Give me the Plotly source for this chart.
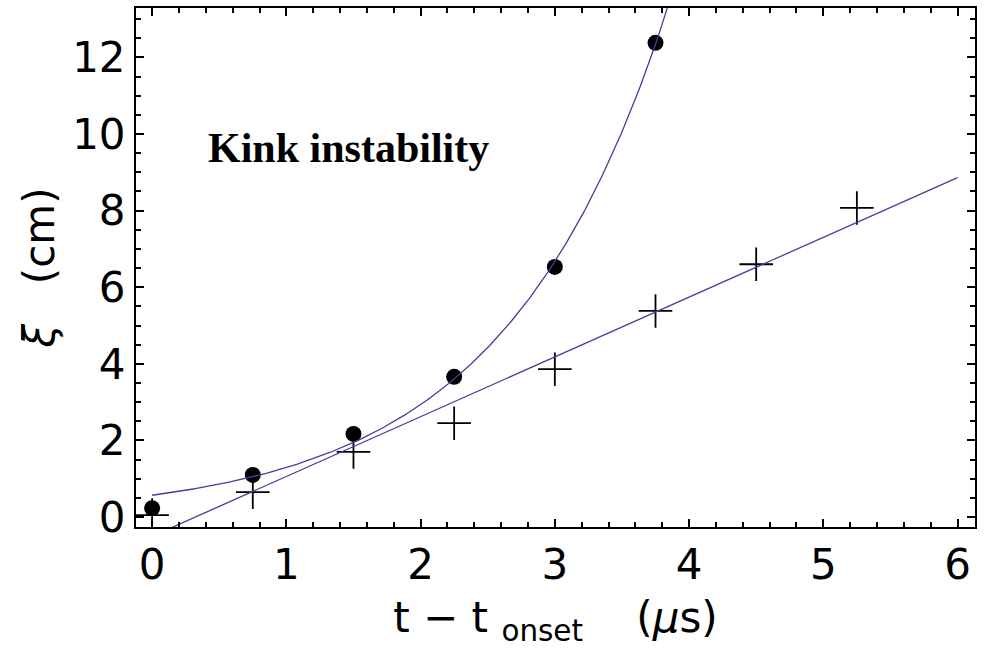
import numpy as np
import plotly.graph_objects as go

# ---- data ----
t_circles = [0.0, 0.75, 1.5, 2.25, 3.0, 3.75]
xi_circles = [0.23, 1.1, 2.17, 3.66, 6.53, 12.38]

t_crosses = [0.0, 0.75, 1.5, 2.25, 3.0, 3.75, 4.5, 5.25]
xi_crosses = [0.05, 0.65, 1.7, 2.45, 3.86, 5.38, 6.6, 8.07]

x_ticks = [0, 1, 2, 3, 4, 5, 6]
y_ticks = [0, 2, 4, 6, 8, 10, 12]

label_text = "Kink instability"

# ---- fits computed from the data ----
xc = np.array(t_circles)
yc = np.array(xi_circles)
b, ln_a = np.polyfit(xc, np.log(yc), 1, w=yc)
a = np.exp(ln_a)
for _ in range(100):
    e = np.exp(b * xc)
    f = a * e
    J = np.column_stack([e, a * xc * e])
    d = np.linalg.lstsq(J, yc - f, rcond=None)[0]
    a += d[0]
    b += d[1]
t_exp = np.linspace(0, 4.0, 300)
xi_exp = a * np.exp(b * t_exp)

slope, icpt = np.polyfit(np.array(t_crosses), np.array(xi_crosses), 1)
t_lin = np.linspace(0, 6, 50)
xi_lin = icpt + slope * t_lin

line_color = "#40409c"

fig = go.Figure()
fig.add_trace(go.Scatter(x=t_circles, y=xi_circles, mode="markers",
                         marker=dict(symbol="circle", size=16, color="black"),
                         showlegend=False))
fig.add_trace(go.Scatter(x=t_crosses, y=xi_crosses, mode="markers",
                         marker=dict(symbol="cross-thin", size=24,
                                     line=dict(color="black", width=1.8)),
                         showlegend=False))
fig.add_trace(go.Scatter(x=t_exp, y=xi_exp, mode="lines",
                         line=dict(color=line_color, width=1.3),
                         showlegend=False))
fig.add_trace(go.Scatter(x=t_lin, y=xi_lin, mode="lines",
                         line=dict(color=line_color, width=1.3),
                         showlegend=False))

axis_common = dict(
    showgrid=False, zeroline=False, showline=True, linecolor="black",
    linewidth=2, mirror="ticks", ticks="inside", ticklen=8, tickwidth=1.5,
    tickcolor="black", automargin=False,
    tickfont=dict(family="DejaVu Sans", size=42, color="black"),
)

fig.update_layout(
    width=986, height=657,
    margin=dict(l=136, r=11, t=8, b=130, autoexpand=False),
    paper_bgcolor="white", plot_bgcolor="white",
    xaxis=dict(range=[-0.12, 6.13], tickvals=x_ticks,
               minor=dict(dtick=0.2, tick0=0, ticklen=5, tickwidth=1.5,
                          ticks="inside", tickcolor="black"),
               title=dict(text="t \u2212 t\u00a0<sub>onset</sub>\u00a0\u00a0\u00a0\u00a0(<i>\u03bc</i>s)",
                          font=dict(family="DejaVu Sans", size=42, color="black"),
                          standoff=14),
               **axis_common),
    yaxis=dict(range=[-0.26, 13.29], tickvals=y_ticks,
               minor=dict(dtick=0.5, tick0=0, ticklen=5, tickwidth=1.5,
                          ticks="inside", tickcolor="black"),
               title=dict(text="<i>\u03be</i>\u00a0\u00a0\u00a0(cm)",
                          font=dict(family="DejaVu Sans", size=42, color="black"),
                          standoff=4),
               **axis_common),
    annotations=[dict(x=0.40, y=9.63, xref="x", yref="y", text=f"<b>{label_text}</b>",
                      showarrow=False, xanchor="left", yanchor="middle",
                      font=dict(family="Liberation Serif", size=42, color="black"))],
)

fig.write_html("out.html", config={"displayModeBar": False},
               post_script="document.body.style.margin='0';document.body.style.padding='0';")
